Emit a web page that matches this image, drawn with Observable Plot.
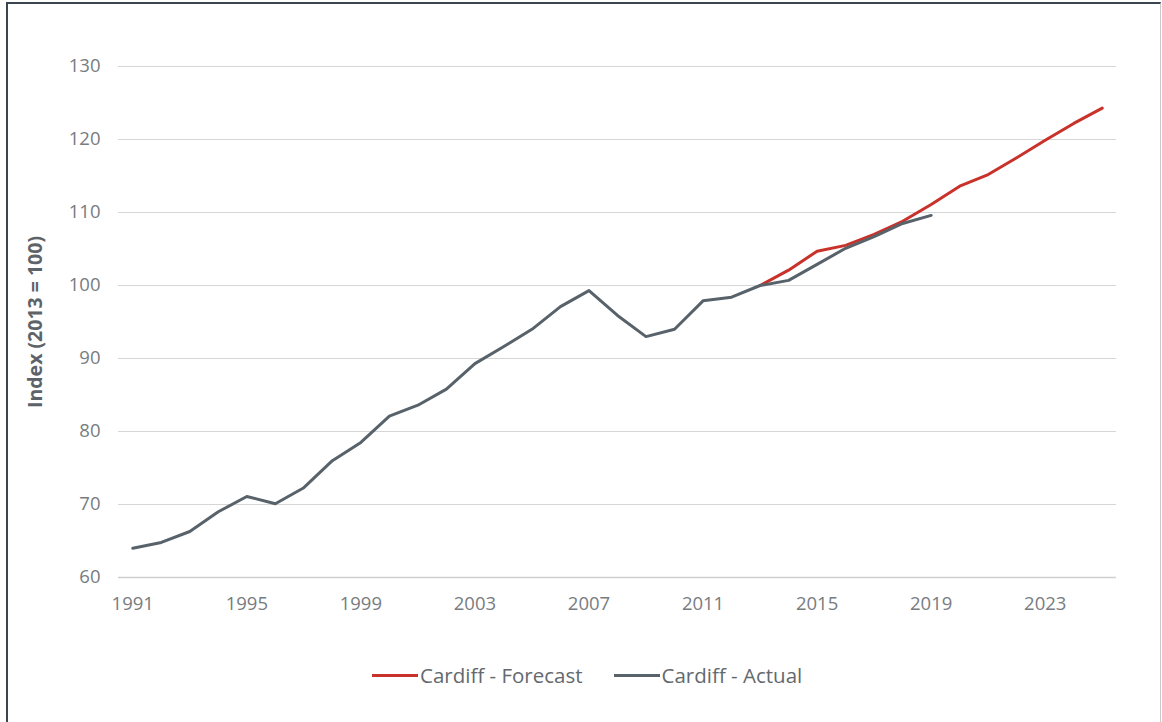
<!DOCTYPE html>
<html>
<head>
<meta charset="utf-8">
<script src="https://cdn.jsdelivr.net/npm/d3@7"></script>
<script src="https://cdn.jsdelivr.net/npm/@observablehq/plot@0.6"></script>
<style>
  html, body { margin: 0; padding: 0; background: #fff; }
  body { width: 1162px; height: 722px; position: relative; overflow: hidden; font-family: "Open Sans", Lato, sans-serif; }
  #frame { position: absolute; left: 6px; top: 2px; width: 1152px; height: 730px;
           border-left: 2px solid #3b4550; border-top: 2px solid #3b4550; border-right: 1px solid #c8c8c8; }
  #chart { position: absolute; left: 0; top: 0; }
  #legend { position: absolute; top: 661px; left: 372px; display: flex; align-items: center;
            font-size: 20.5px; color: #63696e; white-space: nowrap; }
  .item { display: flex; align-items: center; margin-right: 31px; }
  .swatch { width: 46px; height: 3px; margin-right: 2px; }
</style>
</head>
<body>
<div id="frame"></div>
<div id="chart"></div>
<div id="legend"></div>
<script>
const actualYears = [1991,1992,1993,1994,1995,1996,1997,1998,1999,2000,2001,2002,2003,2004,2005,2006,2007,2008,2009,2010,2011,2012,2013,2014,2015,2016,2017,2018,2019];
const actualValues = [64.0,64.8,66.3,69.0,71.1,70.1,72.3,76.0,78.5,82.1,83.6,85.8,89.3,91.6,94.0,97.1,99.3,95.9,93.0,94.0,97.9,98.4,100.0,100.7,102.9,105.1,106.7,108.5,109.6];
const forecastYears = [2013,2014,2015,2016,2017,2018,2019,2020,2021,2022,2023,2024,2025];
const forecastValues = [100.0,102.1,104.7,105.5,107.0,108.8,111.1,113.6,115.2,117.5,119.9,122.2,124.3];
const xTicks = [1991,1995,1999,2003,2007,2011,2015,2019,2023];
const yTicks = [60,70,80,90,100,110,120,130];
const seriesNames = ["Cardiff - Forecast", "Cardiff - Actual"];
const seriesColors = ["#c9322b", "#58626a"];

const actual = actualYears.map((y, i) => ({year: y, value: actualValues[i]}));
const forecast = forecastYears.map((y, i) => ({year: y, value: forecastValues[i]}));

const chart = Plot.plot({
  width: 1162,
  height: 620,
  marginLeft: 118,
  marginRight: 46,
  marginTop: 66,
  marginBottom: 43,
  style: {fontFamily: "'Open Sans', Lato, sans-serif", fontSize: "18.5px", color: "#777c81", background: "transparent"},
  x: {type: "linear", domain: [1990.5, 2025.5], label: null},
  y: {domain: [60, 130]},
  marks: [
    Plot.ruleY(yTicks.filter(d => d > 60), {stroke: "#d6d6d6", strokeWidth: 1.2}),
    Plot.ruleY([60], {stroke: "#cfcfcf", strokeWidth: 1.5}),
    Plot.axisX({ticks: xTicks, tickFormat: d => String(d), tickSize: 0, tickPadding: 19, fontSize: 18.5, fill: "#777c81", label: null}),
    Plot.axisY({ticks: yTicks, tickSize: 0, tickPadding: 18, fontSize: 18.5, fill: "#777c81",
                label: "Index (2013 = 100)", labelAnchor: "center", labelArrow: "none", labelOffset: 90}),
    Plot.lineY(forecast, {x: "year", y: "value", stroke: seriesColors[0], strokeWidth: 3}),
    Plot.lineY(actual, {x: "year", y: "value", stroke: seriesColors[1], strokeWidth: 3})
  ]
});
document.getElementById("chart").appendChild(chart);

// style y label
chart.querySelectorAll("g[aria-label='y-axis label'] text, g[aria-label='y-axis label']").forEach(el => {
  el.setAttribute("font-weight", "bold");
  el.setAttribute("fill", "#5d6368");
  el.setAttribute("font-size", "19.5");
});

const legend = document.getElementById("legend");
seriesNames.forEach((n, i) => {
  const item = document.createElement("div");
  item.className = "item";
  const sw = document.createElement("div");
  sw.className = "swatch";
  sw.style.background = seriesColors[i];
  const t = document.createElement("span");
  t.textContent = n;
  item.appendChild(sw); item.appendChild(t);
  legend.appendChild(item);
});
</script>
</body>
</html>
